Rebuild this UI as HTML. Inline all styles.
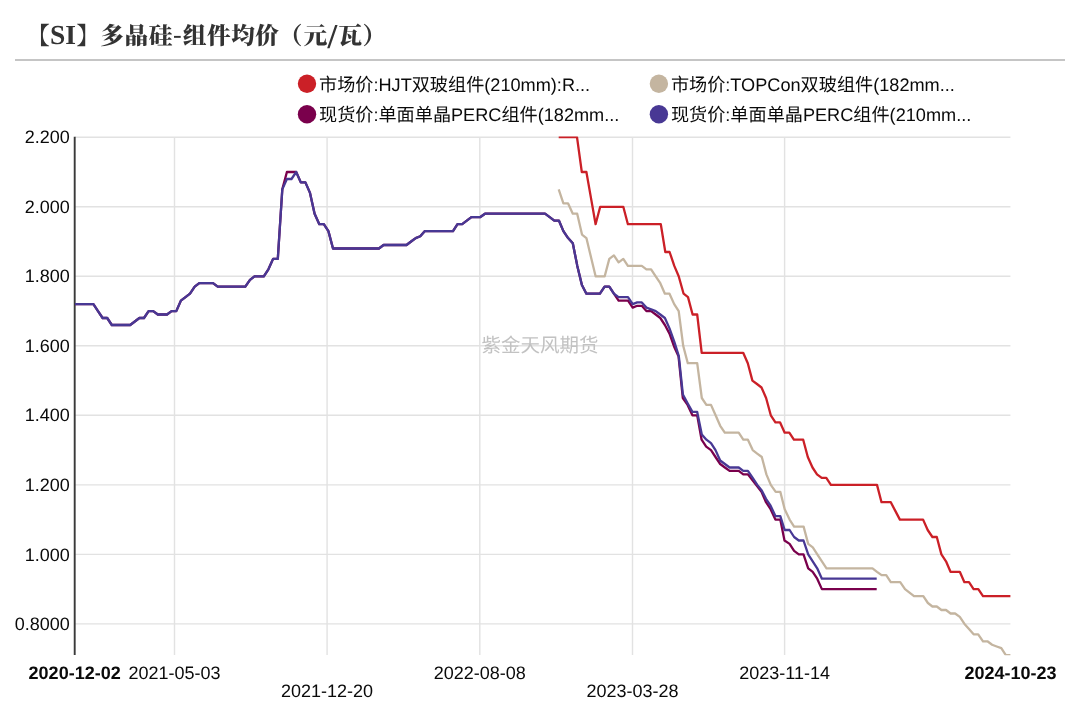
<!DOCTYPE html>
<html lang="zh-CN">
<head>
<meta charset="utf-8">
<title>【SI】多晶硅-组件均价（元/瓦）</title>
<style>
html,body{margin:0;padding:0;background:#fff;}
body{width:1080px;height:701px;overflow:hidden;position:relative;}
svg{display:block;position:absolute;left:0;top:0;}
text{text-rendering:geometricPrecision;}
.sans{font-family:"Liberation Sans","Noto Sans CJK SC",sans-serif;font-size:18px;fill:#0a0a0a;}
.lg{font-size:18.15px;}
.title{font-family:"Liberation Serif","Noto Serif CJK SC",serif;font-weight:900;font-size:23.7px;letter-spacing:0.5px;fill:#333;}
.wm{font-family:"Liberation Sans","Noto Sans CJK SC",sans-serif;font-size:19.5px;fill:#c2c2c2;}
.grid line{stroke:#e2e2e2;stroke-width:1.4;}
</style>
</head>
<body>
<svg width="1080" height="701" viewBox="0 0 1080 701">
<rect x="0" y="0" width="1080" height="701" fill="#ffffff"/>
<text class="title" y="43.8"><tspan x="26.05">【</tspan><tspan x="50.05" font-size="27.5" letter-spacing="0">SI</tspan><tspan x="76.6">】</tspan><tspan x="100.3">多晶硅</tspan><tspan x="173" dy="-1.1" font-size="26" font-weight="400">-</tspan><tspan x="182.8" dy="1.1">组件均价</tspan><tspan x="278.8">（</tspan><tspan x="303.55">元</tspan><tspan x="327.5" dy="4.4" font-size="35">/</tspan><tspan x="338.3" dy="-4.4">瓦）</tspan></text>
<line x1="15" y1="60" x2="1065" y2="60" stroke="#b2b2b2" stroke-width="1.7"/>
<g class="sans lg">
<circle cx="307" cy="83.7" r="9.2" fill="#cb2027"/>
<text x="319" y="90.5">市场价:HJT双玻组件(210mm):R...</text>
<circle cx="658.9" cy="83.7" r="9.2" fill="#c4b5a0"/>
<text x="670.9" y="90.5">市场价:TOPCon双玻组件(182mm...</text>
<circle cx="307" cy="114.2" r="9.2" fill="#7a004c"/>
<text x="319" y="121">现货价:单面单晶PERC组件(182mm...</text>
<circle cx="658.9" cy="114.2" r="9.2" fill="#483894"/>
<text x="670.9" y="121">现货价:单面单晶PERC组件(210mm...</text>
</g>
<g class="grid">
<line x1="75" y1="137.2" x2="1010.4" y2="137.2"/>
<line x1="75" y1="206.8" x2="1010.4" y2="206.8"/>
<line x1="75" y1="276.3" x2="1010.4" y2="276.3"/>
<line x1="75" y1="345.8" x2="1010.4" y2="345.8"/>
<line x1="75" y1="415.3" x2="1010.4" y2="415.3"/>
<line x1="75" y1="484.9" x2="1010.4" y2="484.9"/>
<line x1="75" y1="554.4" x2="1010.4" y2="554.4"/>
<line x1="75" y1="623.9" x2="1010.4" y2="623.9"/>
<line x1="174.5" y1="137.2" x2="174.5" y2="655"/>
<line x1="327.1" y1="137.2" x2="327.1" y2="655"/>
<line x1="479.8" y1="137.2" x2="479.8" y2="655"/>
<line x1="632.5" y1="137.2" x2="632.5" y2="655"/>
<line x1="784.6" y1="137.2" x2="784.6" y2="655"/>
</g>
<text class="wm" x="540" y="351.5" text-anchor="middle">紫金天风期货</text>
<line x1="74.7" y1="136.8" x2="74.7" y2="655" stroke="#3a3a3a" stroke-width="1.9"/>
<g class="sans">
<text x="69.8" y="143.3" text-anchor="end">2.200</text>
<text x="69.8" y="212.9" text-anchor="end">2.000</text>
<text x="69.8" y="282.4" text-anchor="end">1.800</text>
<text x="69.8" y="351.9" text-anchor="end">1.600</text>
<text x="69.8" y="421.4" text-anchor="end">1.400</text>
<text x="69.8" y="491.0" text-anchor="end">1.200</text>
<text x="69.8" y="560.5" text-anchor="end">1.000</text>
<text x="69.8" y="630.0" text-anchor="end">0.8000</text>
<text x="28.6" y="679.2" font-weight="bold">2020-12-02</text>
<text x="174.5" y="679.2" text-anchor="middle">2021-05-03</text>
<text x="327.1" y="697.2" text-anchor="middle">2021-12-20</text>
<text x="479.8" y="679.2" text-anchor="middle">2022-08-08</text>
<text x="632.5" y="697.2" text-anchor="middle">2023-03-28</text>
<text x="784.6" y="679.2" text-anchor="middle">2023-11-14</text>
<text x="1056.6" y="679.2" text-anchor="end" font-weight="bold">2024-10-23</text>
</g>
<clipPath id="plot"><rect x="70" y="136.4" width="945" height="518.9"/></clipPath>
<g clip-path="url(#plot)">
<polyline points="558.7,137.2 577.0,137.2 581.8,172.0 586.4,172.0 591.0,198.1 595.6,224.2 600.2,206.8 623.3,206.8 627.9,224.2 660.8,224.2 665.3,252.0 669.6,252.0 674.3,265.9 678.7,276.3 683.6,293.7 688.0,297.1 692.6,314.5 697.2,314.5 701.7,352.8 743.2,352.8 747.8,363.2 752.4,380.6 757.0,384.0 761.5,387.5 766.1,398.0 770.8,415.3 775.4,422.3 780.0,422.3 784.7,432.7 789.3,432.7 793.9,439.7 803.2,439.7 807.8,457.0 812.5,467.5 817.0,474.4 821.7,477.9 826.3,477.9 830.9,484.9 877.0,484.9 881.5,502.2 890.8,502.2 895.3,510.9 899.9,519.6 923.1,519.6 927.7,530.0 932.4,537.0 936.8,537.0 941.4,554.4 946.0,561.3 950.5,571.8 959.8,571.8 964.4,582.2 969.0,582.2 973.6,589.1 978.3,589.1 983.0,596.1 1010.4,596.1" fill="none" stroke="#cb2027" stroke-width="2.3" stroke-linejoin="round" stroke-linecap="butt"/>
<polyline points="558.7,189.4 563.4,203.3 568.0,203.3 572.8,213.7 577.2,213.7 582.0,234.6 586.4,238.1 595.6,276.3 604.7,276.3 609.3,258.9 613.9,255.4 618.6,262.4 623.3,258.9 627.9,265.9 641.8,265.9 646.4,269.3 651.1,269.3 655.7,276.3 660.3,283.2 664.9,293.7 669.5,293.7 674.2,304.1 678.7,311.1 683.2,345.8 687.8,363.2 697.2,363.2 701.8,398.0 706.4,404.9 711.0,404.9 715.6,415.3 720.2,425.8 724.8,432.7 738.7,432.7 743.3,439.7 747.9,439.7 752.7,450.1 757.2,453.6 761.8,457.0 766.4,474.4 770.8,484.9 775.7,491.8 780.3,491.8 784.7,509.2 789.6,519.6 794.1,526.6 803.6,526.6 808.2,543.9 812.8,547.4 817.3,554.4 821.9,561.3 826.5,568.3 872.5,568.3 877.0,571.8 881.6,575.2 886.2,575.2 890.8,582.2 900.2,582.2 905.0,589.1 909.5,592.6 914.0,596.1 923.3,596.1 927.9,603.0 932.4,606.5 936.8,606.5 941.4,610.0 946.0,610.0 950.6,613.5 955.1,613.5 959.8,616.9 964.5,623.9 969.0,629.1 973.6,634.3 978.2,634.3 983.0,641.3 987.4,641.3 992.1,644.7 996.7,646.5 1001.3,648.2 1005.8,655.2 1010.4,655.2" fill="none" stroke="#c4b5a0" stroke-width="2.3" stroke-linejoin="round" stroke-linecap="butt"/>
<polyline points="75.0,304.1 93.4,304.1 98.0,311.1 102.6,318.0 107.2,318.0 111.8,325.0 130.2,325.0 134.8,321.5 139.4,318.0 144.0,318.0 148.6,311.1 153.2,311.1 157.8,314.5 167.0,314.5 171.6,311.1 176.3,311.1 180.9,300.6 185.5,297.1 190.0,293.7 194.7,286.7 199.3,283.2 213.0,283.2 217.7,286.7 245.3,286.7 250.0,279.8 254.5,276.3 263.8,276.3 268.4,269.3 273.1,258.9 277.8,258.9 282.3,189.4 286.9,172.0 291.5,172.0 296.2,172.0 300.8,182.4 305.4,182.4 310.0,192.9 314.6,213.7 319.3,224.2 323.8,224.2 328.4,231.1 333.0,248.5 378.9,248.5 383.6,245.0 406.5,245.0 411.1,241.5 415.7,238.1 420.3,236.3 424.9,231.1 453.0,231.1 457.5,224.2 462.2,224.2 466.8,220.7 471.4,217.2 480.0,217.2 485.0,213.7 545.0,213.7 549.7,217.2 554.3,220.7 559.0,220.7 563.4,231.1 568.1,238.1 572.8,243.3 577.3,265.9 581.9,285.0 586.4,293.7 599.9,293.7 604.6,286.7 609.3,286.7 613.9,293.7 618.6,300.6 628.0,300.6 632.7,307.6 637.2,305.8 641.8,305.8 646.4,311.1 651.1,311.1 655.7,314.5 660.3,318.0 664.9,325.0 669.5,333.6 674.5,347.5 678.5,356.2 682.8,398.0 687.6,404.9 692.4,415.3 697.2,415.3 701.6,439.7 706.2,446.6 711.0,450.1 715.5,457.0 720.2,464.0 724.9,467.5 729.6,470.9 738.7,470.9 743.3,474.4 747.9,474.4 761.5,491.8 766.0,502.2 770.6,509.2 775.4,519.6 780.3,519.6 784.5,540.5 789.6,543.9 794.1,550.9 798.8,554.4 803.5,554.4 808.2,568.3 812.7,571.8 817.2,578.7 821.9,589.1 876.7,589.1" fill="none" stroke="#7a004c" stroke-width="2.3" stroke-linejoin="round" stroke-linecap="butt"/>
<polyline points="75.0,304.1 93.4,304.1 98.0,311.1 102.6,318.0 107.2,318.0 111.8,325.0 130.2,325.0 134.8,321.5 139.4,318.0 144.0,318.0 148.6,311.1 153.2,311.1 157.8,314.5 167.0,314.5 171.6,311.1 176.3,311.1 180.9,300.6 185.5,297.1 190.0,293.7 194.7,286.7 199.3,283.2 213.0,283.2 217.7,286.7 245.3,286.7 250.0,279.8 254.5,276.3 263.8,276.3 268.4,269.3 273.1,258.9 277.8,258.9 282.3,189.4 286.9,179.0 291.5,179.0 296.2,172.0 300.8,182.4 305.4,182.4 310.0,192.9 314.6,213.7 319.3,224.2 323.8,224.2 328.4,231.1 333.0,248.5 378.9,248.5 383.6,245.0 406.5,245.0 411.1,241.5 415.7,238.1 420.3,236.3 424.9,231.1 453.0,231.1 457.5,224.2 462.2,224.2 466.8,220.7 471.4,217.2 480.0,217.2 485.0,213.7 545.0,213.7 549.7,217.2 554.3,220.7 559.0,220.7 563.4,231.1 568.1,238.1 572.8,243.3 577.3,265.9 581.9,285.0 586.4,293.7 599.9,293.7 604.6,286.7 609.3,286.7 613.9,293.7 618.6,297.1 628.0,297.1 632.7,304.1 637.2,302.4 641.8,302.4 646.4,307.6 651.1,309.3 655.7,311.1 660.3,314.5 664.9,318.0 669.5,328.4 674.5,342.3 678.8,356.2 682.9,394.5 687.6,403.2 692.4,411.9 697.2,411.9 701.8,434.4 706.4,439.7 711.0,443.1 715.5,450.1 720.2,460.5 724.9,464.0 729.6,467.5 738.7,467.5 743.3,470.9 747.9,470.9 752.7,477.9 757.3,484.9 761.5,490.1 766.0,498.8 770.6,505.7 775.4,516.1 780.3,516.1 784.7,530.0 789.6,530.0 794.1,537.0 798.8,540.5 803.5,540.5 808.2,554.4 812.7,561.3 817.2,568.3 821.9,578.7 876.7,578.7" fill="none" stroke="#483894" stroke-width="2.3" stroke-linejoin="round" stroke-linecap="butt"/>
</g>
</svg>
</body>
</html>
